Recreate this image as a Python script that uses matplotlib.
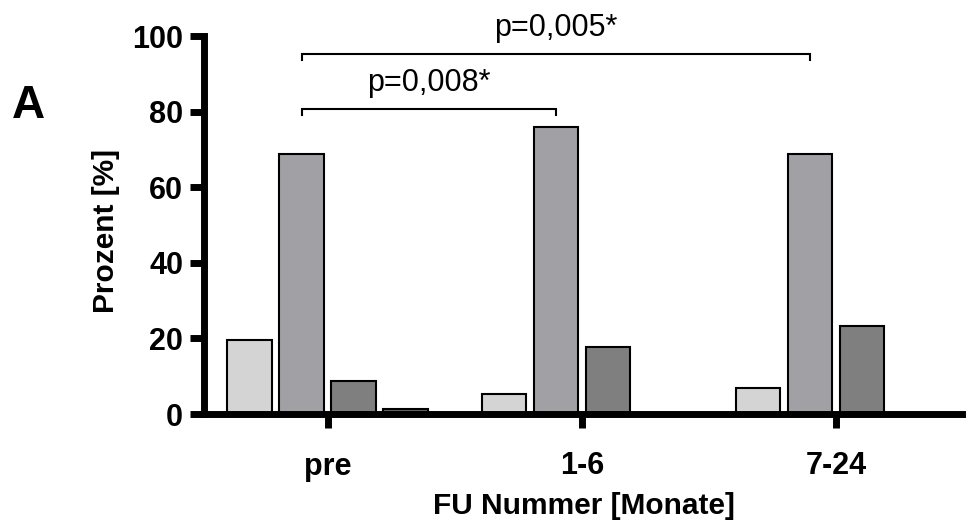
import numpy as np
import matplotlib
matplotlib.use('Agg')
import matplotlib.pyplot as plt

plt.rcParams['font.family'] = ['Liberation Sans', 'DejaVu Sans']

# Daten
groups = ['pre', '1-6', '7-24']
serie_1 = [19.6, 5.2, 6.8]
serie_2 = [68.8, 76.0, 68.8]
serie_3 = [8.6, 17.8, 23.4]
serie_4 = [1.4, 0.0, 0.0]
series = [serie_1, serie_2, serie_3, serie_4]
colors = ['#d4d4d4', '#a1a0a5', '#7f7f7f', '#666666']

# Signifikanz-Klammern: (Gruppe von, Gruppe bis, Hoehe, Text)
brackets = [(0, 1, 80.7, 'p=0,008*'), (0, 2, 95.2, 'p=0,005*')]

fig = plt.figure(figsize=(9.69, 5.29), dpi=100)
ax = fig.add_axes([204 / 969, 1 - 414 / 529, (962 - 204) / 969, (414 - 36) / 529])

x = np.arange(len(groups))
pitch = 0.2047
width = 0.177
for i, vals in enumerate(series):
    offs = (i - 1.5) * pitch
    ax.bar(x + offs, vals, width=width, color=colors[i], edgecolor='black',
           linewidth=1.5, zorder=2)

# Klammern ueber den mittleren Balken
for g0, g1, h, txt in brackets:
    x0 = g0 - 0.5 * pitch
    x1 = g1 - 0.5 * pitch
    ax.plot([x0, x0, x1, x1], [h - 1.6, h, h, h - 1.6], color='black',
            lw=1.5, clip_on=False, solid_joinstyle='miter')
    ax.text((x0 + x1) / 2, h + 3.0, txt, ha='center', va='bottom',
            fontsize=22)

ax.set_xlim(-0.488, 2.496)
ax.set_ylim(0, 100)
ax.set_xticks(x)
ax.set_xticklabels(groups)
ax.set_yticks([0, 20, 40, 60, 80, 100])

for s in ['top', 'right']:
    ax.spines[s].set_visible(False)
for s in ['left', 'bottom']:
    ax.spines[s].set_linewidth(5)
ax.tick_params(axis='both', width=5, length=10, labelsize=22, pad=5)
ax.tick_params(axis='x', pad=17)
for lab in ax.get_xticklabels() + ax.get_yticklabels():
    lab.set_fontweight('bold')

fig.text(106 / 969, 1 - 231 / 529, 'Prozent [%]', rotation=90, ha='center',
         va='center', fontsize=21.5, fontweight='bold')
fig.text(584 / 969, 1 - 506 / 529, 'FU Nummer [Monate]', ha='center',
         va='center', fontsize=21.5, fontweight='bold')
fig.text(28 / 969, 1 - 106 / 529, 'A', ha='center', va='center',
         fontsize=33, fontweight='bold')

fig.savefig('out.png', dpi=100)
